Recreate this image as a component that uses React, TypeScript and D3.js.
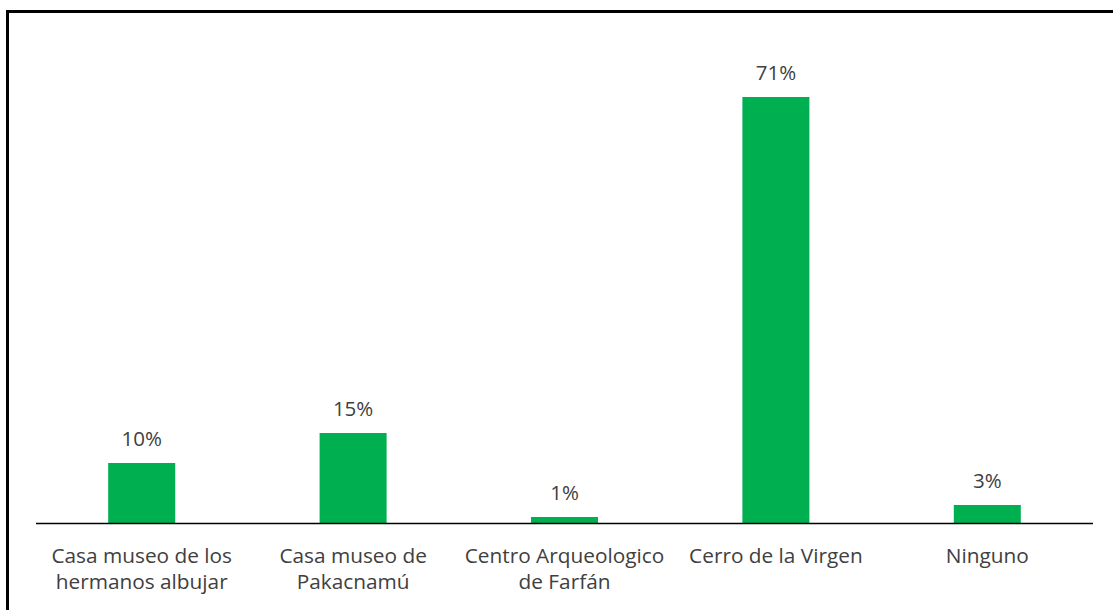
import React from "react";
import * as d3 from "d3";

const categories = [
  ["Casa museo de los", "hermanos albujar"],
  ["Casa museo de", "Pakacnamú"],
  ["Centro Arqueologico", "de Farfán"],
  ["Cerro de la Virgen"],
  ["Ninguno"],
];
const values = [10, 15, 1, 71, 3];
const valueLabels = ["10%", "15%", "1%", "71%", "3%"];

const width = 1113;
const height = 610;
const axisY = 523;
const left = 36;
const right = 1093;

export default function App() {
  const x = d3
    .scaleBand<number>()
    .domain(values.map((_, i) => i))
    .range([left, right])
    .padding(0);
  const barW = x.bandwidth() * 0.317;

  const y = d3.scaleLinear().domain([0, 71]).range([axisY, 97]);

  const font = "'Open Sans', sans-serif";
  const textColor = "#404040";

  return (
    <svg
      width={width}
      height={height}
      style={{ position: "absolute", left: 0, top: 0, background: "#fff" }}
    >
      <rect x={7.5} y={11.5} width={width + 20} height={height + 20} fill="#fff" stroke="#000" strokeWidth={3} />
      <g fill="#00b050">
        {values.map((v, i) => (
          <rect
            key={i}
            x={x(i)! + (x.bandwidth() - barW) / 2}
            y={y(v)}
            width={barW}
            height={axisY - y(v)}
          />
        ))}
      </g>
      <line x1={left} x2={right} y1={axisY + 0.5} y2={axisY + 0.5} stroke="#000" strokeWidth={1.3} />
      <g fontFamily={font} fill={textColor} textAnchor="middle">
        {values.map((v, i) => (
          <text key={i} x={x(i)! + x.bandwidth() / 2} y={y(v) - 17} fontSize={20.5}>
            {valueLabels[i]}
          </text>
        ))}
        {categories.map((lines, i) =>
          lines.map((l, j) => (
            <text key={i + "-" + j} x={x(i)! + x.bandwidth() / 2} y={563 + j * 26} fontSize={20.8}>
              {l}
            </text>
          ))
        )}
      </g>
    </svg>
  );
}
